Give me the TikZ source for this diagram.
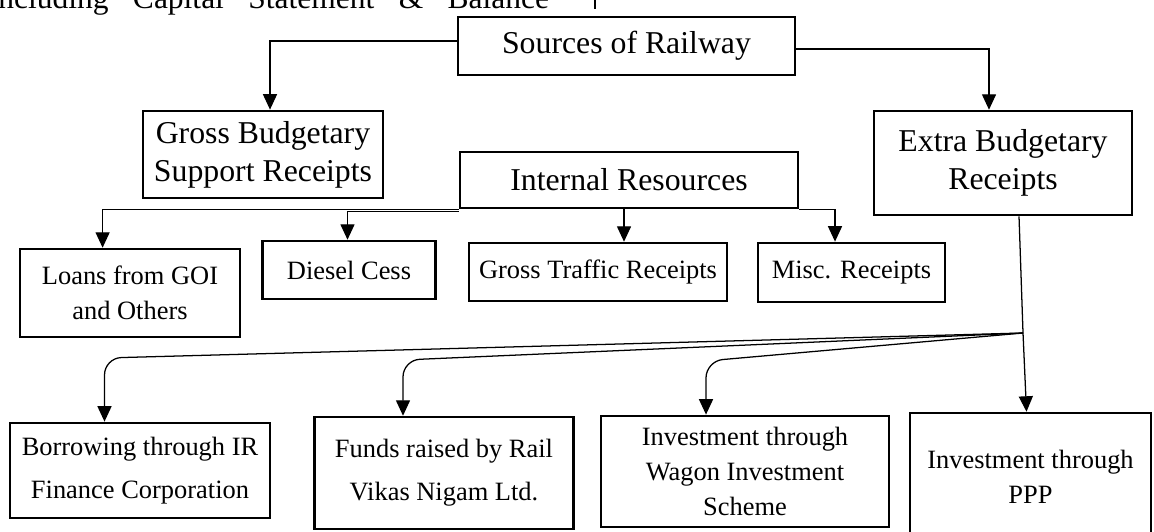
\documentclass[tikz,border=0pt]{standalone}
\usepackage{fontspec}
\setmainfont{Liberation Serif}
\usepackage{tikz}
\usetikzlibrary{arrows.meta}
\tikzset{
	big node/.style={rectangle,draw,line width=0.9pt,align=center,inner sep=2pt,
		font=\fontsize{11.3}{13.6}\selectfont},
	small node/.style={rectangle,draw,line width=0.9pt,align=center,inner sep=2pt,
		font=\fontsize{9.4}{12.4}\selectfont}
}

\begin{document}
\begin{tikzpicture}[->,>={Triangle[length=5.5pt,width=5pt]},x=0.0125cm,y=-0.0125cm,line width=0.45pt]
      \useasboundingbox (0,0) rectangle (1154,531);
      % cut-off line of the page text above
      \node[anchor=base west,inner sep=0pt,font=\fontsize{11.2}{13}\selectfont] (0) at (-11,8)
        {\makebox[6.99cm][s]{including Capital Statement \& Balance}};
      \draw[-] (595,0) -- (595,9);

      \node[big node,minimum width=4.21cm,minimum height=0.725cm] (1) at (626.5,46) {Sources of Railway};
      \node[big node,minimum width=3.0cm,minimum height=1.09cm] (2) at (263,154.5) {Gross Budgetary\\Support Receipts};
      \node[big node,minimum width=4.225cm,minimum height=0.7cm] (3) at (629,180) {Internal Resources};
      \node[big node,minimum width=3.22cm,minimum height=1.3cm] (4) at (1003,163) {Extra Budgetary\\Receipts};

      \node[small node,minimum width=2.75cm,minimum height=1.1cm] (5) at (130,293) {Loans from GOI\\and Others};
      \node[small node,minimum width=2.16cm,minimum height=0.725cm] (6) at (349,270) {Diesel Cess};
      \node[small node,minimum width=3.225cm,minimum height=0.725cm] (7) at (598,272) {Gross Traffic Receipts};
      \node[small node,minimum width=2.34cm,minimum height=0.74cm] (8) at (851.5,272.5) {Misc. Receipts};

      \node[small node,minimum width=3.25cm,minimum height=1.19cm] (9) at (140,470.5) {Borrowing through IR\\[3pt]Finance Corporation};
      \node[small node,minimum width=3.24cm,minimum height=1.4cm] (10) at (444,473) {Funds raised by Rail\\[3pt]Vikas Nigam Ltd.};
      \node[small node,minimum width=3.6cm,minimum height=1.39cm] (11) at (745,471.5) {Investment through\\Wagon Investment\\Scheme};
      \node[small node,minimum width=3.01cm,minimum height=1.6cm] (12) at (1030.5,477) {Investment through\\PPP};

      \draw (1.west) ++(0,-5) -| (270,0 |- 2.north);
      \draw (1.east) ++(0,3) -| (989,0 |- 4.north);

      \draw (3.south west) -| (102.6,0 |- 5.north);
      \draw (3.south west) ++(0,2) -| (347.5,0 |- 6.north);
      \draw (624,0 |- 3.south) -- (624,0 |- 7.north);
      \draw (3.south east) -| (835,0 |- 8.north);

      \coordinate (j) at (1023,333);
      \draw[-] (1019,0 |- 4.south) -- (j);
      \draw (j) -- (1026.5,0 |- 12.north);
      \draw[rounded corners=6pt] (j) -- (104.5,358) -- (104.5,0 |- 9.north);
      \draw[rounded corners=6pt] (j) -- (403,360) -- (403,0 |- 10.north);
      \draw[rounded corners=6pt] (j) -- (706,361) -- (706,0 |- 11.north);
\end{tikzpicture}
\end{document}
